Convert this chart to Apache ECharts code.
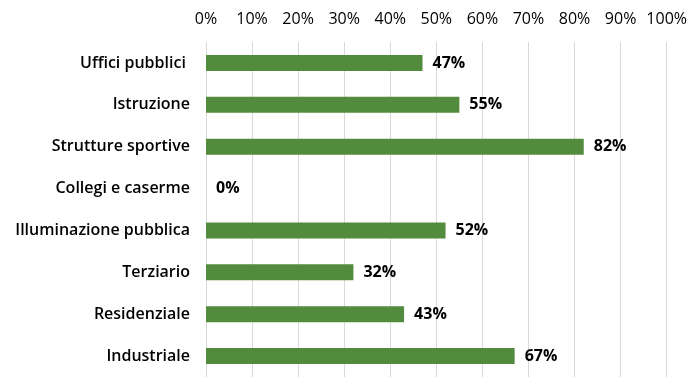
<!DOCTYPE html>
<html>
<head>
<meta charset="utf-8">
<script src="https://cdn.jsdelivr.net/npm/echarts@6/dist/echarts.min.js"></script>
<style>
html,body{margin:0;padding:0;background:#fff;}
#chart{width:690px;height:377px;}
</style>
</head>
<body>
<div id="chart"></div>
<script>
const categories = ["Uffici pubblici ", "Istruzione", "Strutture sportive", "Collegi e caserme", "Illuminazione pubblica", "Terziario", "Residenziale", "Industriale"];
const values = [47, 55, 82, 0, 52, 32, 43, 67];
const tickLabels = ["0%", "10%", "20%", "30%", "40%", "50%", "60%", "70%", "80%", "90%", "100%"];

const FONT = "'Open Sans'";
const chart = echarts.init(document.getElementById('chart'), null, {renderer: 'canvas'});
chart.setOption({
  animation: false,
  grid: {left: 206, right: 23, top: 42, bottom: -4, containLabel: false},
  xAxis: {
    type: 'value', position: 'top', min: 0, max: 100, interval: 10,
    axisLine: {show: false}, axisTick: {show: false},
    axisLabel: {
      margin: 15, color: '#000', fontFamily: FONT, fontSize: 16,
      formatter: (v) => tickLabels[Math.round(v / 10)]
    },
    splitLine: {show: true, lineStyle: {color: '#d9d9d9', width: 1}}
  },
  yAxis: {
    type: 'category', inverse: true, data: categories,
    axisLine: {show: false}, axisTick: {show: false},
    axisLabel: {margin: 16, color: '#000', fontFamily: FONT, fontWeight: 600, fontSize: 16}
  },
  series: [{
    type: 'bar', data: values, barWidth: 16,
    itemStyle: {color: '#538B3E'},
    label: {
      show: true, position: 'right', distance: 10,
      formatter: (p) => p.value + '%',
      color: '#000', fontFamily: FONT, fontWeight: 700, fontSize: 16
    }
  }]
});
</script>
</body>
</html>
